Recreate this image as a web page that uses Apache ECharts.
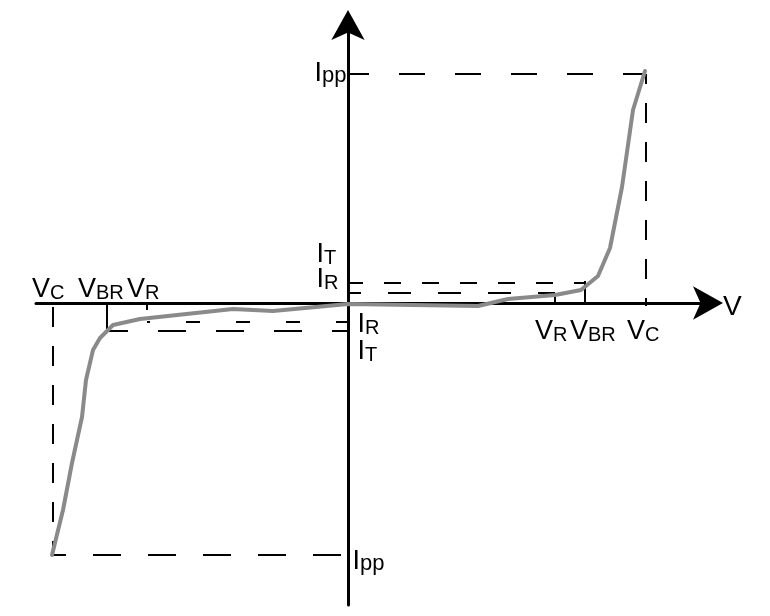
<!DOCTYPE html>
<html><head><meta charset="utf-8">
<script src="https://cdn.jsdelivr.net/npm/echarts@6/dist/echarts.min.js"></script>
<style>html,body{margin:0;padding:0;background:#fff}#c{width:770px;height:616px}</style>
</head><body><div id="c"></div>
<script>
// ---- axis extents (arbitrary units) ----
const xMin = -31.2, xMax = 36, yMin = -30.2, yMax = 27.8;
// ---- characteristic voltages ----
const VcL = -29.5, VBRL = -24.1, VRL = -20.1;
const VRR = 20.7, VBRR = 23.7, VcR = 29.8;
// ---- characteristic currents ----
const IppTop = 22.9, ITp = 2.0, IRp = 1.0;
const IRm = -1.9, ITm = -2.8, IppBot = -25.2;
// ---- I-V curve ----
const curveLeftV  = [0, -7.5, -11.5, -20.8, -23.5, -24.8, -25.5, -26.2, -26.6, -27.6, -28.5, -29.6];
const curveLeftI  = [-0.1, -0.8, -0.6, -1.6, -2.2, -3.5, -4.7, -7.7, -11.4, -16.0, -20.7, -25.2];
const curveRightV = [0, 13.0, 16.0, 20.7, 23.3, 25.0, 26.2, 27.4, 28.5, 29.7];
const curveRightI = [-0.1, -0.3, 0.4, 0.8, 1.3, 2.7, 5.5, 11.6, 19.3, 23.2];

const FONT = "'Liberation Sans', Arial, sans-serif";
const curve = [];
for (let i = curveLeftV.length - 1; i > 0; i--) curve.push([curveLeftV[i], curveLeftI[i]]);
for (let i = 0; i < curveRightV.length; i++) curve.push([curveRightV[i], curveRightI[i]]);

function seg(pts, type, width, offset) {
  return {type: 'line', data: pts, symbol: 'none', silent: true, animation: false, z: 3,
    lineStyle: {color: '#000', width: width, type: type, dashOffset: offset || 0, cap: 'butt'}};
}
const axisCommon = {
  axisTick: {show: false}, axisLabel: {show: false}, splitLine: {show: false},
  axisLine: {show: true, onZero: true, symbol: ['none', 'arrow'], symbolSize: [25, 30],
    symbolOffset: [0, 15], lineStyle: {color: '#000', width: 3}}
};
const chart = echarts.init(document.getElementById('c'));
chart.setOption({
  animation: false,
  backgroundColor: '#fff',
  grid: {left: 36, right: 62, top: 25, bottom: 11},
  xAxis: Object.assign({type: 'value', min: xMin, max: xMax}, axisCommon),
  yAxis: Object.assign({type: 'value', min: yMin, max: yMax}, axisCommon),
  series: [
    seg([[0, IppTop], [VcR, IppTop]], [26, 30], 2, 5),
    seg([[VcR, IppTop], [VcR, 0]], [20, 19], 2, 10),
    seg([[VcR, 0.5], [VcR, -0.3]], 'solid', 2),
    seg([[0, ITp], [VBRR, ITp]], [17, 21], 2, 2),
    seg([[0, IRp], [VRR, IRp]], [23, 27], 2, 10),
    seg([[VRR, IRp], [VRR, 0]], 'solid', 2),
    seg([[VBRR, ITp + 0.2], [VBRR, 0]], 'solid', 2),
    seg([[0, IRm], [VRL, IRm]], [14, 36], 2, 2),
    seg([[VBRL, ITm], [0, ITm]], [28, 30], 2, 7),
    seg([[VBRL, 0], [VBRL, ITm]], 'solid', 2),
    seg([[VRL, 0], [VRL, -0.7]], 'solid', 2),
    seg([[VcL, 0], [VcL, IppBot]], [20, 19], 2, 35),
    seg([[VcL, IppBot], [0, IppBot]], [28, 27], 2, 15),
    {type: 'line', data: curve, symbol: 'none', silent: true, animation: false, z: 4,
      lineStyle: {color: '#8a8a8a', width: 4, join: 'round', cap: 'round'}}
  ]
});

const RICH = {
  m: {fontFamily: FONT, fontSize: 27, lineHeight: 27, verticalAlign: 'bottom', fill: '#000'},
  s: {fontFamily: FONT, fontSize: 20, lineHeight: 22.6, verticalAlign: 'bottom', fill: '#000'},
  p: {fontFamily: FONT, fontSize: 22, lineHeight: 23.8, verticalAlign: 'bottom', fill: '#000'},
  v: {fontFamily: FONT, fontSize: 28, lineHeight: 28, verticalAlign: 'bottom', fill: '#000'}
};
const BASE = 5;
const labels = [
  {t: '{m|V}{s|C}',  at: [VcL, 0],  dx: -21, dy: -5},
  {t: '{m|V}{s|BR}', at: [VBRL, 0], dx: -29, dy: -5},
  {t: '{m|V}{s|R}',  at: [VRL, 0],  dx: -20, dy: -5},
  {t: '{m|V}{s|R}',  at: [VRR, 0],  dx: -20, dy: 37},
  {t: '{m|V}{s|BR}', at: [VBRR, 0], dx: -15, dy: 37},
  {t: '{m|V}{s|C}',  at: [VcR, 0],  dx: -19, dy: 37},
  {t: '{m|I}{s|T}',  at: [0, ITp],  dx: -31.5, dy: -20},
  {t: '{m|I}{s|R}',  at: [0, IRp],  dx: -31.5, dy: -5},
  {t: '{m|I}{s|R}',  at: [0, IRm],  dx: 9.5, dy: 11},
  {t: '{m|I}{s|T}',  at: [0, ITm],  dx: 9.5, dy: 29},
  {t: '{m|I}{p|pp}', at: [0, IppTop], dx: -33.5, dy: 8},
  {t: '{m|I}{p|pp}', at: [0, IppBot], dx: 4.5, dy: 15},
  {t: '{v|V}',       at: [xMax, 0], dx: 15, dy: 13}
];
chart.setOption({
  graphic: labels.map(function (l) {
    const p = chart.convertToPixel({gridIndex: 0}, l.at);
    return {type: 'text', x: p[0] + l.dx, y: p[1] + l.dy + BASE, z: 10, silent: true,
      style: {text: l.t, rich: RICH, align: 'left', verticalAlign: 'bottom', fill: '#000', font: '27px ' + FONT}};
  })
});
</script>
</body></html>
